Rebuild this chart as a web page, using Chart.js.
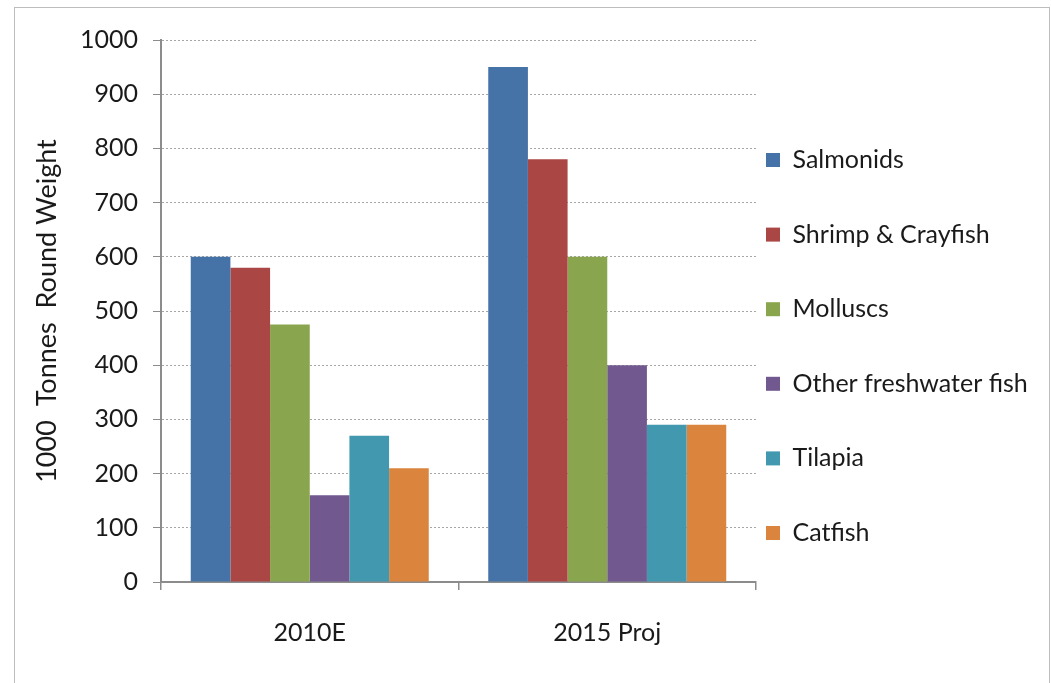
<!DOCTYPE html>
<html>
<head>
<meta charset="utf-8">
<script src="https://cdn.jsdelivr.net/npm/chart.js@4"></script>
<style>
    html, body { margin: 0; padding: 0; background: #fff; overflow: hidden; }
    #frame {
        position: absolute; left: 14px; top: 7px;
        width: 1034px; height: 700px;
        border: 1px solid #bdbdbd;
    }
    #box { position: absolute; left: 0; top: 1px; width: 1034px; height: 675px; }
</style>
</head>
<body>
<div id="frame"><div id="box"><canvas id="fishchart"></canvas></div></div>
<script>
var categories = ['2010E', '2015 Proj'];
var seriesNames = ['Salmonids', 'Shrimp & Crayfish', 'Molluscs', 'Other freshwater fish', 'Tilapia', 'Catfish'];
var salmonids = [600, 950];
var shrimp = [580, 780];
var molluscs = [475, 600];
var otherFish = [160, 400];
var tilapia = [270, 290];
var catfish = [210, 290];
var yTicks = [0, 100, 200, 300, 400, 500, 600, 700, 800, 900, 1000];
var colours = ['#4572A7', '#AA4643', '#89A54E', '#71588F', '#4198AF', '#DB843D'];

var values = [salmonids, shrimp, molluscs, otherFish, tilapia, catfish];
var fontFamily = 'Lato, "Open Sans", sans-serif';

var datasets = seriesNames.map(function(name, i) {
    return {
        label: [name],
        data: values[i],
        backgroundColor: colours[i],
        borderWidth: 0,
        categoryPercentage: 0.8,
        barPercentage: 1.0
    };
});

// the layout caps a side legend at a quarter of the width; give it the room it has in the original
var legendWidth = {
    id: 'legendWidth',
    afterInit: function(chart) {
        var legend = chart.legend;
        var fit = legend.fit;
        legend.fit = function() {
            fit.call(this);
            this.width = 293;
        };
    }
};

var ctx = document.getElementById('fishchart');
var fishChart = new Chart(ctx, {
    type: 'bar',
    data: {
        labels: categories,
        datasets: datasets
    },
    plugins: [legendWidth],
    options: {
        responsive: true,
        maintainAspectRatio: false,
        animation: false,
        layout: {
            padding: { top: 31, bottom: 0, left: 0, right: 0 }
        },
        plugins: {
            tooltip: { enabled: false },
            legend: {
                position: 'right',
                align: 'start',
                title: {
                    display: true,
                    text: ' ',
                    font: { size: 10 },
                    padding: { top: 85.5, bottom: 0 }
                },
                labels: {
                    boxWidth: 14,
                    boxHeight: 14,
                    padding: 10,
                    color: '#1a1a1a',
                    font: { family: fontFamily, size: 25, lineHeight: '64.6px' }
                }
            }
        },
        scales: {
            x: {
                afterFit: function(scale) {
                    scale.height = 102;
                },
                grid: {
                    display: true,
                    drawOnChartArea: false,
                    offset: true,
                    tickLength: 8,
                    color: '#8c8c8c',
                    lineWidth: 1.5
                },
                border: { display: true, color: '#8c8c8c', width: 2 },
                ticks: {
                    color: '#1a1a1a',
                    padding: 28,
                    font: { family: fontFamily, size: 25 }
                }
            },
            y: {
                min: 0,
                max: 1000,
                afterBuildTicks: function(scale) {
                    scale.ticks = yTicks.map(function(v) { return { value: v }; });
                },
                afterFit: function(scale) {
                    scale.width = 146;
                },
                grid: {
                    color: '#a6a6a6',
                    tickBorderDash: [],
                    tickColor: '#8c8c8c',
                    tickLength: 8,
                    lineWidth: 1
                },
                border: { display: true, color: '#8c8c8c', width: 2, dash: [2, 2] },
                ticks: {
                    color: '#1a1a1a',
                    padding: 15,
                    font: { family: fontFamily, size: 25 },
                    callback: function(value) {
                        return String(value);
                    }
                },
                title: {
                    display: true,
                    text: '1000  Tonnes  Round Weight',
                    color: '#1a1a1a',
                    font: { family: fontFamily, size: 27 },
                    padding: { top: 16, bottom: 0 }
                }
            }
        }
    }
});
</script>
</body>
</html>
